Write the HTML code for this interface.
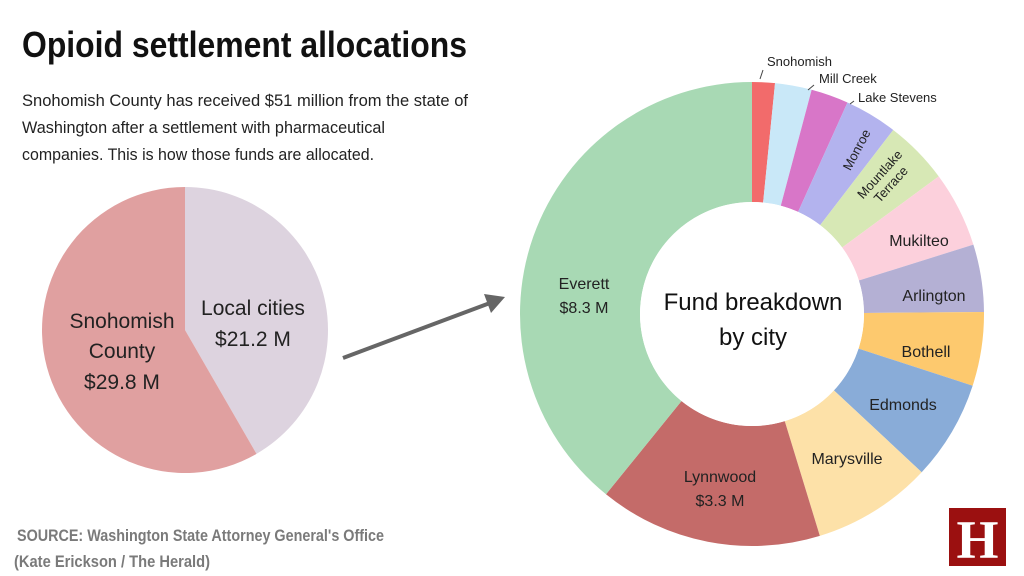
<!DOCTYPE html>
<html><head><meta charset="utf-8"><style>
html,body{margin:0;padding:0;background:#fff;width:1024px;height:576px;overflow:hidden}
text{font-family:"Liberation Sans",sans-serif}
</style></head><body>
<svg id="s" width="1024" height="576" viewBox="0 0 1024 576" xmlns="http://www.w3.org/2000/svg">
<rect width="1024" height="576" fill="#fff"/>
<g id="pies"></g>
<text x="22" y="57" font-size="36" font-weight="bold" fill="#111" textLength="445" lengthAdjust="spacingAndGlyphs">Opioid settlement allocations</text>
<g font-size="17" fill="#222">
<text x="22" y="106" textLength="446" lengthAdjust="spacingAndGlyphs">Snohomish County has received $51 million from the state of</text>
<text x="22" y="133" textLength="363" lengthAdjust="spacingAndGlyphs">Washington after a settlement with pharmaceutical</text>
<text x="22" y="160" textLength="352" lengthAdjust="spacingAndGlyphs">companies. This is how those funds are allocated.</text>
</g>
<g font-size="17" font-weight="bold" fill="#7a7a7a">
<text x="17" y="541" textLength="367" lengthAdjust="spacingAndGlyphs">SOURCE: Washington State Attorney General's Office</text>
<text x="14" y="567" textLength="196" lengthAdjust="spacingAndGlyphs">(Kate Erickson / The Herald)</text>
</g>
<line x1="343" y1="358" x2="490" y2="303" stroke="#666" stroke-width="4"/>
<polygon points="505,297 484,294 491,313" fill="#666"/>
<g font-size="21" fill="#222" text-anchor="middle">
<text x="122" y="328">Snohomish</text><text x="122" y="358">County</text><text x="122" y="389">$29.8 M</text>
<text x="253" y="315">Local cities</text><text x="253" y="346">$21.2 M</text>
</g>
<circle cx="752" cy="314" r="112" fill="#fff"/>
<g font-size="24" fill="#111" text-anchor="middle">
<text x="753" y="310">Fund breakdown</text><text x="753" y="345">by city</text>
</g>
<g font-size="16" fill="#222" text-anchor="middle">
<text x="584" y="289">Everett</text><text x="584" y="313">$8.3 M</text>
<text x="720" y="482">Lynnwood</text><text x="720" y="506">$3.3 M</text>
<text x="847" y="464">Marysville</text>
<text x="903" y="410">Edmonds</text>
<text x="926" y="357">Bothell</text>
<text x="934" y="301">Arlington</text>
<text x="919" y="246">Mukilteo</text>
<text transform="translate(886,180) rotate(-48)" font-size="13"><tspan x="0" y="-4">Mountlake</tspan><tspan x="0" y="11">Terrace</tspan></text>
<text transform="translate(857,150) rotate(-62)" font-size="13" y="4">Monroe</text>
</g>
<g font-size="13" fill="#222">
<text x="767" y="66">Snohomish</text>
<text x="819" y="83">Mill Creek</text>
<text x="858" y="102">Lake Stevens</text>
</g>
<g stroke="#444" stroke-width="1">
<line x1="763" y1="70" x2="760" y2="79"/>
<line x1="814" y1="85" x2="808" y2="90"/>
<line x1="854" y1="101" x2="850" y2="104"/>
</g>
<rect x="949" y="508" width="57" height="58" fill="#9b1010"/>
<text x="977.5" y="558" style="font-family:'Liberation Serif',serif" font-weight="bold" font-size="54" fill="#fff" text-anchor="middle">H</text>
</svg>
<script>
function pt(cx,cy,r,a){a=a*Math.PI/180;return [cx+r*Math.sin(a),cy-r*Math.cos(a)];}
function arc(cx,cy,R,r,a0,a1,c){
 var p1=pt(cx,cy,R,a0),p2=pt(cx,cy,R,a1),large=(a1-a0)>180?1:0,d;
 if(r>0){var p3=pt(cx,cy,r,a1),p4=pt(cx,cy,r,a0);
  d="M"+p1+"A"+R+","+R+" 0 "+large+" 1 "+p2+"L"+p3+"A"+r+","+r+" 0 "+large+" 0 "+p4+"Z";}
 else d="M"+cx+","+cy+"L"+p1+"A"+R+","+R+" 0 "+large+" 1 "+p2+"Z";
 return '<path d="'+d+'" fill="'+c+'"/>';}
var h="";
h+=arc(185,330,143,0,0,150,"#ddd3df");
h+=arc(185,330,143,0,150,360,"#e0a0a0");
var segs=[[0,5.7,"#f26b6b"],[5.7,14.9,"#c9e8f8"],[14.9,24.3,"#d876c8"],[24.3,37.5,"#b3b3ee"],[37.5,53.6,"#d7e8b5"],[53.6,72.6,"#fcd0dc"],[72.6,89.5,"#b4b0d4"],[89.5,108,"#fdc96e"],[108,133,"#89acd8"],[133,163,"#fde1a8"],[163,219,"#c46b69"],[219,360,"#a8d9b4"]];
segs.forEach(function(s){h+=arc(752,314,232,112,s[0],s[1],s[2]);});
document.getElementById("pies").innerHTML=h;
</script>
</body></html>
